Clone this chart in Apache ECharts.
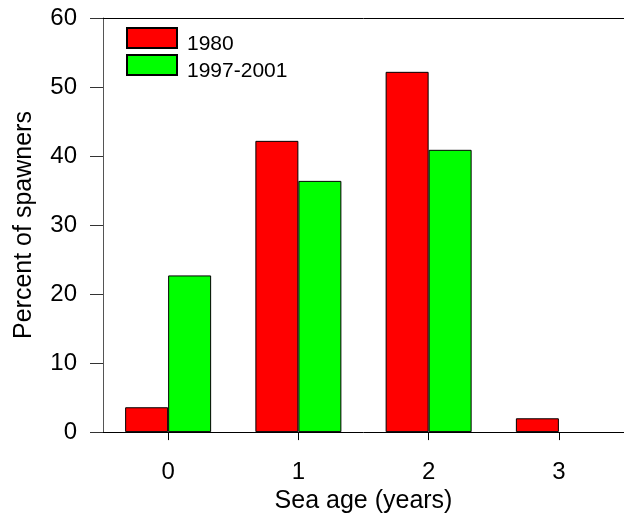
<!DOCTYPE html>
<html>
<head>
<meta charset="utf-8">
<script src="https://cdn.jsdelivr.net/npm/echarts@6/dist/echarts.min.js"></script>
<style>html,body{margin:0;padding:0;background:#fff;}#c{width:624px;height:519px;}</style>
</head>
<body>
<div id="c"></div>
<script>
const categories = ['0', '1', '2', '3'];
const series1980 = [3.6, 42.2, 52.2, 2.0];
const series1997 = [22.7, 36.4, 40.9, 0];
const seriesNames = ['1980', '1997-2001'];
const yTicks = [0, 10, 20, 30, 40, 50, 60];

const FONT = '"Liberation Sans", Arial, Helvetica, sans-serif';
const barData = arr => arr.map(v => v === 0 ? {value: v, itemStyle: {borderWidth: 0}} : v);
const chart = echarts.init(document.getElementById('c'), null, {renderer: 'canvas'});
chart.setOption({
  animation: false,
  backgroundColor: '#fff',
  textStyle: {fontFamily: FONT, color: '#000'},
  grid: {left: 103, top: 18, width: 524, height: 420, containLabel: false},
  legend: {
    orient: 'vertical', left: 121, top: 16,
    itemWidth: 50, itemHeight: 20, itemGap: -7,
    icon: 'rect',
    formatter: name => '{t|' + name + '}',
    textStyle: {fontFamily: FONT, fontSize: 21, color: '#000',
      rich: {t: {fontFamily: FONT, fontSize: 21, color: '#000', lineHeight: 14, padding: [13, 0, 0, 5]}}},
    data: seriesNames
  },
  xAxis: [{
    type: 'category', data: categories, position: 'bottom',
    axisLine: {lineStyle: {color: '#000', width: 1}},
    axisTick: {show: true, alignWithLabel: true, length: 8, lineStyle: {color: '#000'}},
    axisLabel: {fontFamily: FONT, fontSize: 24, color: '#000', margin: 28},
    name: 'Sea age (years)', nameLocation: 'middle', nameGap: 51,
    nameTextStyle: {fontFamily: FONT, fontSize: 25, color: '#000'}
  }, {
    type: 'category', data: categories, position: 'top',
    axisLine: {lineStyle: {color: '#000', width: 1}},
    axisTick: {show: false}, axisLabel: {show: false}
  }],
  yAxis: {
    type: 'value', min: 0, max: 60, interval: 10,
    axisLine: {show: true, lineStyle: {color: '#555', width: 1}},
    axisTick: {show: true, length: 13, lineStyle: {color: '#333'}},
    axisLabel: {fontFamily: FONT, fontSize: 24, color: '#000', margin: 26,
      formatter: v => yTicks.includes(v) ? String(v) : ''},
    splitLine: {show: false},
    name: 'Percent of spawners', nameLocation: 'middle', nameGap: 66,
    nameTextStyle: {fontFamily: FONT, fontSize: 25, color: '#000'}
  },
  series: [
    {name: seriesNames[0], type: 'bar', data: barData(series1980), barWidth: 43, barGap: '0%',
     itemStyle: {color: '#ff0000', borderColor: '#000', borderWidth: 1}},
    {name: seriesNames[1], type: 'bar', data: barData(series1997), barWidth: 43, barGap: '0%',
     itemStyle: {color: '#00ff00', borderColor: '#000', borderWidth: 1}}
  ]
});
</script>
</body>
</html>
